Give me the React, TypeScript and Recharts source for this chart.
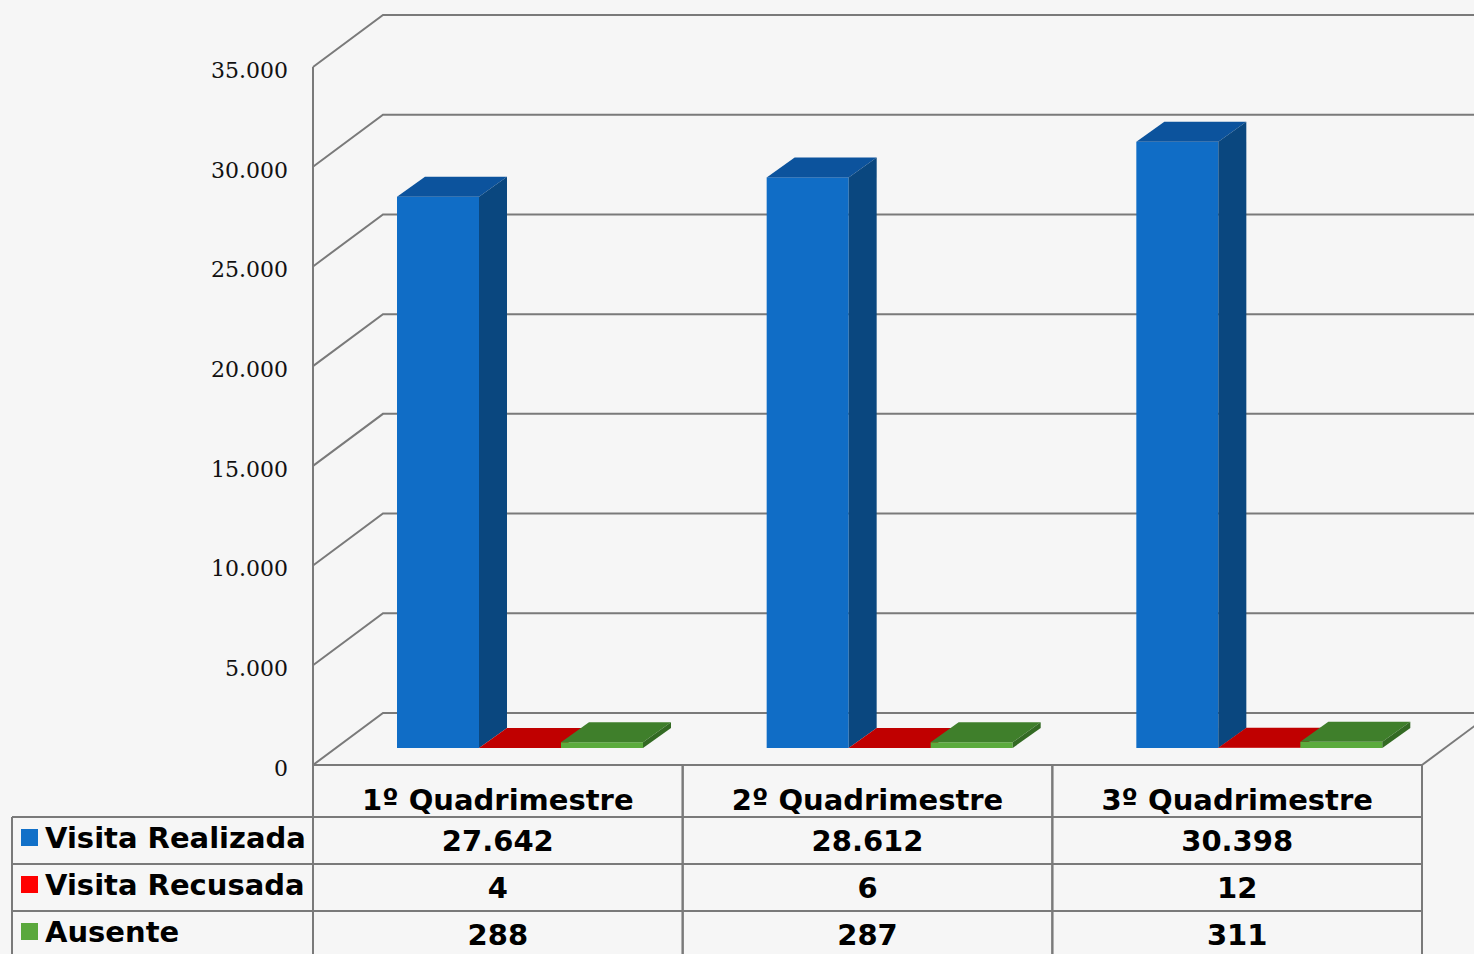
import { Bar, BarChart, CartesianGrid, Customized, XAxis, YAxis } from "recharts";

const categories = ["1º Quadrimestre", "2º Quadrimestre", "3º Quadrimestre"];
const visitaRealizada = [27642, 28612, 30398];
const visitaRecusada = [4, 6, 12];
const ausente = [288, 287, 311];
const seriesNames = ["Visita Realizada", "Visita Recusada", "Ausente"];
const yTicks = [0, 5000, 10000, 15000, 20000, 25000, 30000, 35000];

const seriesValues = [visitaRealizada, visitaRecusada, ausente];
const seriesKeys = ["realizada", "recusada", "ausente"];

// colours per series: legend swatch, front face, top face, side face
const seriesStyles = [
  { legend: "#1170c8", front: "#106dc6", top: "#0c539d", side: "#0a477f" },
  { legend: "#ff0000", front: "#e00000", top: "#c00000", side: "#9a0000" },
  { legend: "#5aa83c", front: "#5bab3d", top: "#3f7f2b", side: "#336a23" },
];

const data = categories.map((name, i) => ({
  name,
  realizada: visitaRealizada[i],
  recusada: visitaRecusada[i],
  ausente: ausente[i],
}));

const W = 1474;
const H = 954;
const PLOT_LEFT = 313;
const PLOT_RIGHT = 52;
const PLOT_TOP = 67;
const TABLE_H = 189;
const COL_W = (W - PLOT_LEFT - PLOT_RIGHT) / categories.length;

// 3d offsets
const WALL_DX = 70;
const WALL_DY = 52;
const BAR_DX = 22;
const BAR_DY = 17;
const DEPTH_DX = 28;
const DEPTH_DY = 20;

const LINE = "#7a7a7a";
const TABLE_FONT = "'DejaVu Sans', Verdana, sans-serif";
const TABLE_SIZE = 29;

const fmt = (v: number) => String(v).replace(/\B(?=(\d{3})+(?!\d))/g, ".");

function GridLine(props: any) {
  const { x1, x2, y1 } = props;
  const bottom = props.height != null && props.y != null ? props.y + props.height : 765;
  const isFloor = Math.abs(y1 - bottom) < 1;
  return (
    <g key={props.key}>
      <path
        d={`M${x1},${y1} L${x1 + WALL_DX},${y1 - WALL_DY} L${W},${y1 - WALL_DY}`}
        stroke={LINE}
        strokeWidth={2}
        fill="none"
      />
      {isFloor && (
        <line x1={x2} y1={y1} x2={x2 + WALL_DX} y2={y1 - WALL_DY} stroke={LINE} strokeWidth={2} />
      )}
    </g>
  );
}

function makeBox(style: (typeof seriesStyles)[number]) {
  return (props: any) => {
    const { x, y, width, height } = props;
    const fx = x + BAR_DX;
    const fy = y - BAR_DY;
    const r = fx + width;
    const b = fy + height;
    return (
      <g>
        <rect x={fx} y={fy} width={width} height={height} fill={style.front} />
        <polygon
          points={`${fx},${fy} ${fx + DEPTH_DX},${fy - DEPTH_DY} ${r + DEPTH_DX},${fy - DEPTH_DY} ${r},${fy}`}
          fill={style.top}
        />
        <polygon
          points={`${r},${fy} ${r + DEPTH_DX},${fy - DEPTH_DY} ${r + DEPTH_DX},${b - DEPTH_DY} ${r},${b}`}
          fill={style.side}
        />
      </g>
    );
  };
}

function TableColumn(props: any) {
  const { x, y, payload } = props;
  const i = payload.index;
  const left = x - COL_W / 2;
  const right = x + COL_W / 2;
  const rows = [52, 99, 146];
  return (
    <g fontFamily={TABLE_FONT} fontWeight="bold" fontSize={TABLE_SIZE} fill="#000" textAnchor="middle">
      <line x1={left} y1={y} x2={left} y2={H} stroke={LINE} strokeWidth={2} />
      <line x1={right} y1={y} x2={right} y2={H} stroke={LINE} strokeWidth={2} />
      {rows.map((dy) => (
        <line key={dy} x1={left} y1={y + dy} x2={right} y2={y + dy} stroke={LINE} strokeWidth={2} />
      ))}
      <text x={x} y={y + 45}>{payload.value}</text>
      {seriesValues.map((vals, s) => (
        <text key={s} x={x} y={y + 86 + s * 47}>
          {fmt(vals[i])}
        </text>
      ))}
    </g>
  );
}

function LegendColumn() {
  const top = 817;
  const rowH = 47;
  return (
    <g fontFamily={TABLE_FONT} fontWeight="bold" fontSize={TABLE_SIZE} fill="#000">
      <line x1={12} y1={top} x2={12} y2={H} stroke={LINE} strokeWidth={2} />
      {seriesNames.map((name, s) => (
        <g key={name}>
          <line x1={12} y1={top + s * rowH} x2={PLOT_LEFT} y2={top + s * rowH} stroke={LINE} strokeWidth={2} />
          <rect x={21} y={top + 12 + s * rowH} width={17} height={17} fill={seriesStyles[s].legend} />
          <text x={45} y={top + 31 + s * rowH}>{name}</text>
        </g>
      ))}
    </g>
  );
}

export default function App() {
  return (
    <div style={{ position: "absolute", left: 0, top: 0, width: W, height: H, background: "#f6f6f6" }}>
      <BarChart
        width={W}
        height={H}
        data={data}
        margin={{ top: PLOT_TOP, right: PLOT_RIGHT, bottom: 0, left: 0 }}
        barGap={0}
        barSize={82}
      >
        <CartesianGrid vertical={false} horizontal={GridLine} />
        <YAxis
          width={PLOT_LEFT}
          domain={[0, 35000]}
          ticks={yTicks}
          interval={0}
          tickFormatter={fmt}
          tickLine={false}
          tickSize={0}
          tickMargin={25}
          axisLine={{ stroke: LINE, strokeWidth: 2 }}
          tick={{ fill: "#111", fontSize: 22, fontFamily: "'DejaVu Serif', serif", dy: 3 }}
        />
        <XAxis
          dataKey="name"
          height={TABLE_H}
          interval={0}
          tickLine={false}
          tickSize={0}
          tickMargin={0}
          axisLine={{ stroke: LINE, strokeWidth: 2 }}
          tick={<TableColumn />}
        />
        {seriesKeys.map((key, s) => (
          <Bar
            key={key}
            dataKey={key}
            name={seriesNames[s]}
            fill={seriesStyles[s].front}
            shape={makeBox(seriesStyles[s])}
            isAnimationActive={false}
          />
        ))}
        <Customized component={LegendColumn} />
      </BarChart>
    </div>
  );
}
